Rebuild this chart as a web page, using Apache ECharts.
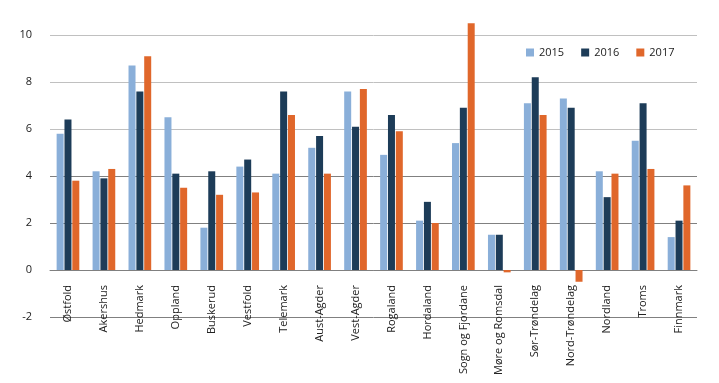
<!DOCTYPE html>
<html>
<head>
<meta charset="utf-8">
<script src="https://cdn.jsdelivr.net/npm/echarts@6/dist/echarts.min.js"></script>
<style>html,body{margin:0;padding:0;background:#fff}#c{width:719px;height:383px}</style>
</head>
<body>
<div id="c"></div>
<script>
const categories = ["Østfold","Akershus","Hedmark","Oppland","Buskerud","Vestfold","Telemark","Aust-Agder","Vest-Agder","Rogaland","Hordaland","Sogn og Fjordane","Møre og Romsdal","Sør-Trøndelag","Nord-Trøndelag","Nordland","Troms","Finnmark"];
const values2015 = [5.8,4.2,8.7,6.5,1.8,4.4,4.1,5.2,7.6,4.9,2.1,5.4,1.5,7.1,7.3,4.2,5.5,1.4];
const values2016 = [6.4,3.9,7.6,4.1,4.2,4.7,7.6,5.7,6.1,6.6,2.9,6.9,1.5,8.2,6.9,3.1,7.1,2.1];
const values2017 = [3.8,4.3,9.1,3.5,3.2,3.3,6.6,4.1,7.7,5.9,2.0,10.5,-0.1,6.6,-0.5,4.1,4.3,3.6];
const seriesNames = ["2015","2016","2017"];
const yTicks = [-2,0,2,4,6,8,10];

const font = "'Open Sans', 'DejaVu Sans', sans-serif";
const colors = ["#8aafd9","#1d3c58","#e0672b"];
const chart = echarts.init(document.getElementById('c'));
const mk = (name, data, i) => ({
  name, type: 'bar', data, barWidth: 7, barGap: '12%', clip: false,
  itemStyle: { color: colors[i] }
});
chart.setOption({
  animation: false,
  color: colors,
  legend: {
    data: seriesNames, left: 521, top: 42, itemWidth: 8, itemHeight: 8, itemGap: 17,
    icon: 'rect', textStyle: { fontFamily: font, fontSize: 11, color: '#222' }
  },
  grid: { left: 50, right: 22, top: 35, bottom: 66, containLabel: false, outerBoundsMode: 'none' },
  xAxis: {
    type: 'category', data: categories,
    axisLine: { onZero: true, lineStyle: { color: '#808080', width: 1 } },
    axisTick: { show: false },
    axisLabel: { rotate: 90, interval: 0, margin: -32, fontFamily: font, fontSize: 11, color: '#222' }
  },
  yAxis: {
    type: 'value', min: yTicks[0], max: yTicks[yTicks.length-1], interval: 2,
    axisLine: { show: false }, axisTick: { show: false },
    axisLabel: { margin: 18, fontFamily: font, fontSize: 11, color: '#222' },
    splitLine: { lineStyle: { color: ['#808080','#808080','#808080','#808080','#c0c0c0','#c0c0c0','#c0c0c0'], width: 1 } }
  },
  series: [mk(seriesNames[0], values2015, 0), mk(seriesNames[1], values2016, 1), mk(seriesNames[2], values2017, 2)]
});
</script>
</body>
</html>
